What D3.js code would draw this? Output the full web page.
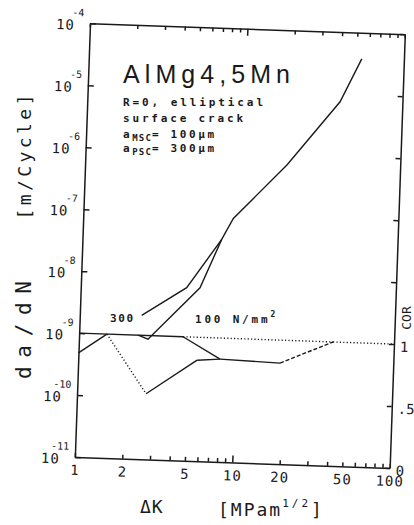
<!DOCTYPE html>
<html>
<head>
<meta charset="utf-8">
<script src="https://cdnjs.cloudflare.com/ajax/libs/d3/7.8.5/d3.min.js"></script>
<style>
  body { margin: 0; background: #fff; }
  svg { display: block; }
  .axis path, .axis line { stroke: #1a1a1a; stroke-width: 1.5; }
  .curve { fill: none; stroke: #1a1a1a; stroke-width: 1.4; }
</style>
</head>
<body>
<div id="chart"></div>
<script>
var svgWidth = 414;
var svgHeight = 525;

// plot box as drawn, before the small tilt of the scan
var width = 315;
var height = 434;
var origin = { x: 90, y: 23.3 };
var tilt = 2.0;

// x axis: delta K [MPa m^1/2]
var xTickLabels = [1, 2, 5, 10, 20, 50, 100];
// left axis: decades of da/dN
var yExponents = [-4, -5, -6, -7, -8, -9, -10, -11];
// right axis: COR
var corTicks = [0, 0.5, 1, 1.5, 2, 2.5, 3, 3.5];
var corLabelValues = [0, 0.5, 1];
var corLabels = ["0", ".5", "1"];

// crack growth curves
var dK300 = [2.47, 4.70, 7.65, 8.97, 19.1, 40.2, 54];
var dadN300 = [2.1e-9, 6.2e-9, 3.9e-8, 8.6e-8, 6.7e-7, 7.5e-6, 3.8e-5];
var dK100 = [2.37, 2.74, 5.71, 7.65];
var dadN100 = [1.0e-9, 8.7e-10, 6.3e-9, 3.9e-8];

// COR curves, one line style per segment
var corK300 = [1.0, 1.5, 2.74, 5.68, 7.94];
var cor300 = [0.84, 1.0, 0.53, 0.815, 0.83];
var corStyle300 = ["solid", "dot", "solid", "solid"];
var corK100 = [1.0, 4.57, 7.94, 19.1, 41, 100];
var cor100 = [1.0, 1.0, 0.83, 0.815, 1.0, 1.0];
var corStyle100 = ["solid", "solid", "solid", "dash", "dot"];
var corKTop = [4.57, 41];
var corTop = [1.0, 1.0];
var corStyleTop = ["dot"];

var dashes = { solid: null, dot: "1.2,2.2", dash: "4,2" };

var svg = d3.select("#chart")
  .append("svg")
  .attr("width", svgWidth)
  .attr("height", svgHeight);

var plot = svg.append("g")
  .attr("transform", `translate(${origin.x}, ${origin.y}) rotate(${tilt})`);

var xScale = d3.scaleLog().domain([1, 100]).range([0, width]);
var yScale = d3.scaleLog().domain([1e-11, 1e-4]).range([height, 0]);
var corScale = d3.scaleLinear().domain([0, 3.5]).range([height, 0]);

var mono = "DejaVu Sans Mono, monospace";

// bottom axis with log minor ticks
var bottomAxis = d3.axisBottom(xScale)
  .tickValues(xScale.ticks())
  .tickSize(-4)
  .tickSizeOuter(0)
  .tickPadding(8)
  .tickFormat(d => xTickLabels.indexOf(d) >= 0 ? d : "");

var xAxis = plot.append("g")
  .classed("axis", true)
  .attr("transform", `translate(0, ${height})`)
  .call(bottomAxis)
  .attr("font-family", mono)
  .attr("font-size", 14);
xAxis.selectAll("text").attr("fill", "#1a1a1a").style("letter-spacing", "1px");
xAxis.selectAll(".tick line").filter(d => d === 10).attr("y2", -7);

var topAxis = d3.axisTop(xScale)
  .tickValues(xScale.ticks())
  .tickSize(-4)
  .tickSizeOuter(0)
  .tickFormat("");

var xTop = plot.append("g")
  .classed("axis", true)
  .call(topAxis);
xTop.selectAll(".tick line").filter(d => d === 10).attr("y2", 7);

var leftAxis = d3.axisLeft(yScale)
  .tickValues(yExponents.map(e => Math.pow(10, e)))
  .tickSize(-6)
  .tickSizeOuter(0)
  .tickFormat("");

plot.append("g")
  .classed("axis", true)
  .call(leftAxis);

// 10 with exponent labels
var yLabels = plot.append("g")
  .attr("font-family", mono)
  .attr("fill", "#1a1a1a");

yLabels.selectAll(".base")
  .data(yExponents)
  .enter()
  .append("text")
  .attr("x", -15)
  .attr("y", d => yScale(Math.pow(10, d)) + 7)
  .attr("text-anchor", "end")
  .attr("font-size", 14)
  .style("letter-spacing", "1px")
  .text("10");

yLabels.selectAll(".exp")
  .data(yExponents)
  .enter()
  .append("text")
  .attr("x", -6)
  .attr("y", d => yScale(Math.pow(10, d)) - 7)
  .attr("text-anchor", "end")
  .attr("font-size", 10)
  .text(d => "-" + Math.abs(d));

var rightAxis = d3.axisRight(corScale)
  .tickValues(corTicks)
  .tickSize(-5)
  .tickSizeOuter(0)
  .tickPadding(6)
  .tickFormat(d => {
    var i = corLabelValues.indexOf(d);
    return i >= 0 ? corLabels[i] : "";
  });

var corAxis = plot.append("g")
  .classed("axis", true)
  .attr("transform", `translate(${width}, 0)`)
  .call(rightAxis)
  .attr("font-family", mono)
  .attr("font-size", 14);
corAxis.selectAll("text").attr("fill", "#1a1a1a").attr("dy", "0.5em");

// curves
function drawSegments(xs, ys, styles, yS) {
  styles.forEach(function(s, i) {
    var pts = [[xs[i], ys[i]], [xs[i + 1], ys[i + 1]]];
    plot.append("path")
      .datum(pts)
      .classed("curve", true)
      .attr("stroke-dasharray", dashes[s])
      .attr("stroke-width", s === "dot" ? 1.2 : 1.4)
      .attr("d", d3.line().x(d => xScale(d[0])).y(d => yS(d[1])));
  });
}

var growthLine = d3.line()
  .x((d, i) => xScale(d[0]))
  .y(d => yScale(d[1]));

plot.append("path")
  .datum(d3.zip(dK300, dadN300))
  .classed("curve", true)
  .attr("d", growthLine);

plot.append("path")
  .datum(d3.zip(dK100, dadN100))
  .classed("curve", true)
  .attr("d", growthLine);

drawSegments(corK300, cor300, corStyle300, corScale);
drawSegments(corK100, cor100, corStyle100, corScale);
drawSegments(corKTop, corTop, corStyleTop, corScale);

// texts of the page (not tilted)
var ink = "#1a1a1a";

svg.append("text")
  .attr("x", 123)
  .attr("y", 83)
  .attr("font-family", "Liberation Sans, sans-serif")
  .attr("font-size", 25)
  .attr("fill", ink)
  .attr("textLength", 167)
  .attr("lengthAdjust", "spacing")
  .text("AlMg4,5Mn");

var noteLines = [
  { y: 106, t: "R=0, elliptical", len: 140 },
  { y: 122, t: "surface crack", len: 120 }
];
noteLines.forEach(function(n) {
  svg.append("text")
    .attr("x", 123)
    .attr("y", n.y)
    .attr("font-family", mono)
    .attr("font-weight", "bold")
    .attr("font-size", 11)
    .attr("fill", ink)
    .attr("textLength", n.len)
    .attr("lengthAdjust", "spacing")
    .text(n.t);
});

var subLines = [
  { y: 138, sub: "MSC", rest: "= 100\u00b5m" },
  { y: 152, sub: "PSC", rest: "= 300\u00b5m" }
];
subLines.forEach(function(n) {
  var t = svg.append("text")
    .attr("x", 123)
    .attr("y", n.y)
    .attr("font-family", mono)
    .attr("font-weight", "bold")
    .attr("font-size", 11)
    .attr("fill", ink)
    .style("letter-spacing", "2.6px");
  t.append("tspan").text("a");
  t.append("tspan").attr("dy", 3).attr("font-size", 9).style("letter-spacing", "1.2px").text(n.sub);
  t.append("tspan").attr("dy", -3).text(n.rest);
});

svg.append("text")
  .attr("x", 110)
  .attr("y", 322)
  .attr("font-family", mono)
  .attr("font-weight", "bold")
  .attr("font-size", 11)
  .attr("fill", ink)
  .attr("textLength", 23)
  .attr("lengthAdjust", "spacing")
  .text("300");

var lab100 = svg.append("text")
  .attr("x", 195)
  .attr("y", 323)
  .attr("font-family", mono)
  .attr("font-weight", "bold")
  .attr("font-size", 11)
  .attr("fill", ink)
  .style("letter-spacing", "2.8px");
lab100.append("tspan").text("100 N/mm");
lab100.append("tspan").attr("dy", -6).attr("font-size", 8).text("2");

// axis titles
svg.append("text")
  .attr("transform", "translate(31, 157) rotate(-90)")
  .attr("text-anchor", "middle")
  .attr("font-family", mono)
  .attr("font-size", 18)
  .attr("fill", ink)
  .attr("textLength", 125)
  .attr("lengthAdjust", "spacing")
  .text("[m/Cycle]");

svg.append("text")
  .attr("transform", "translate(31, 330) rotate(-90)")
  .attr("text-anchor", "middle")
  .attr("font-family", mono)
  .attr("font-size", 21)
  .attr("fill", ink)
  .attr("textLength", 98)
  .attr("lengthAdjust", "spacing")
  .text("da/dN");

svg.append("text")
  .attr("transform", "translate(411, 318) rotate(-90)")
  .attr("text-anchor", "middle")
  .attr("font-family", mono)
  .attr("font-size", 13)
  .attr("fill", ink)
  .text("COR");

svg.append("text")
  .attr("x", 140)
  .attr("y", 513)
  .attr("font-family", mono)
  .attr("font-size", 18)
  .attr("fill", ink)
  .style("letter-spacing", "1px")
  .text("\u0394K");

var kUnit = svg.append("text")
  .attr("x", 218)
  .attr("y", 516)
  .attr("font-family", mono)
  .attr("font-size", 18)
  .attr("fill", ink)
  .style("letter-spacing", "2px");
kUnit.append("tspan").text("[MPam");
kUnit.append("tspan").attr("dy", -9).attr("font-size", 11).style("letter-spacing", "3px").text("1/2");
kUnit.append("tspan").attr("dy", 9).text("]");
</script>
</body>
</html>
